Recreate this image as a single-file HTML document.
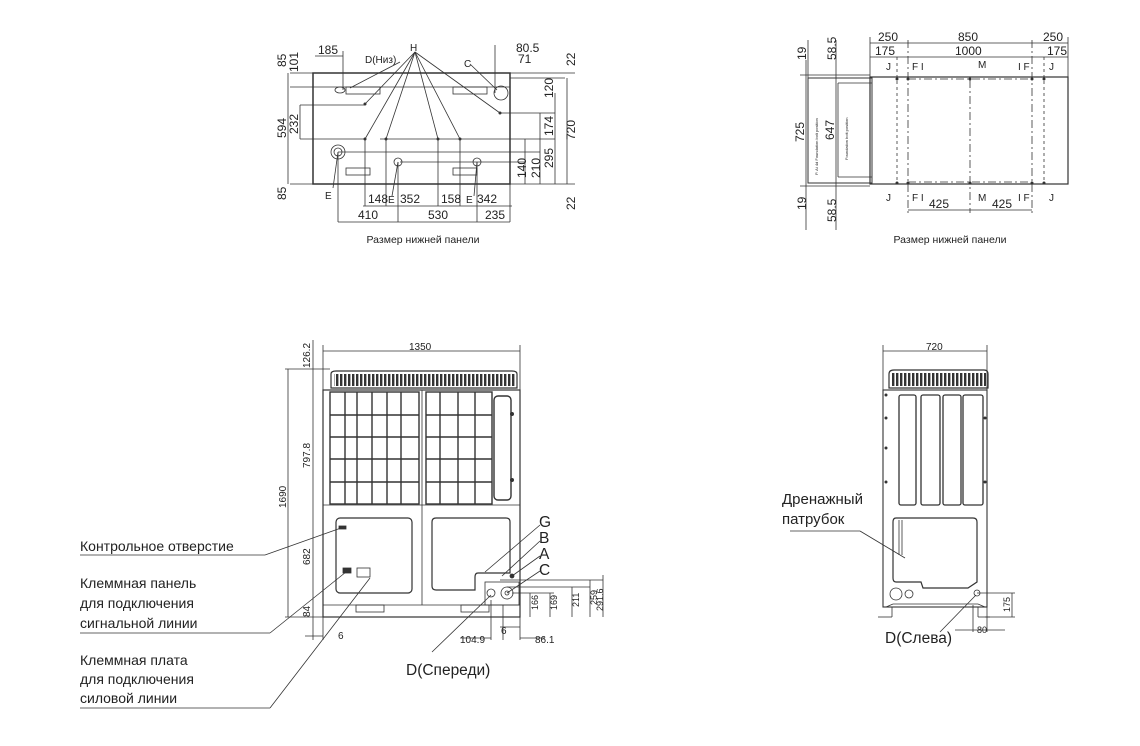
<!DOCTYPE html>
<html><head><meta charset="utf-8"><style>
html,body{margin:0;padding:0;background:#fff;}
svg{display:block;font-family:"Liberation Sans",sans-serif;}
</style></head><body>
<svg width="1140" height="746" viewBox="0 0 1140 746" xmlns="http://www.w3.org/2000/svg">
<defs>
<pattern id="gr" x="0" y="0" width="4" height="20" patternUnits="userSpaceOnUse"><rect x="0" y="0" width="2.4" height="20" fill="#333"/></pattern>
</defs>
<g stroke="#333" stroke-width="0.8" fill="none">
<!-- ===== TOP LEFT VIEW ===== -->
<rect x="313" y="73" width="197" height="111" stroke-width="1.5"/>
<line x1="290" y1="87" x2="510" y2="87"/>
<line x1="290" y1="73" x2="313" y2="73"/>
<line x1="290" y1="184" x2="313" y2="184"/>
<line x1="510" y1="73" x2="575" y2="73"/><line x1="510" y1="184" x2="575" y2="184"/>
<line x1="510" y1="78" x2="565" y2="78"/>
<line x1="300" y1="105" x2="365" y2="105"/><line x1="300" y1="139" x2="365" y2="139"/>
<line x1="300" y1="105" x2="300" y2="139"/>
<line x1="500" y1="113" x2="555" y2="113"/><line x1="380" y1="139" x2="555" y2="139"/>
<line x1="338" y1="152" x2="540" y2="152"/><line x1="400" y1="162" x2="525" y2="162"/>
<line x1="555" y1="93" x2="555" y2="184"/><line x1="540" y1="113" x2="540" y2="184"/>
<line x1="525" y1="139" x2="525" y2="184"/>
<line x1="567" y1="78" x2="567" y2="184"/>
<line x1="288" y1="73" x2="288" y2="184"/>
<rect x="346" y="87" width="34" height="7"/><rect x="453" y="87" width="34" height="7"/>
<rect x="346" y="168" width="24" height="7"/><rect x="453" y="168" width="24" height="7"/>
<circle cx="501" cy="93" r="7"/><circle cx="338" cy="152" r="7"/><circle cx="338" cy="152" r="4"/>
<circle cx="398" cy="162" r="4"/><circle cx="477" cy="162" r="4"/>
<ellipse cx="340" cy="90" rx="5" ry="3"/>
<line x1="343" y1="51" x2="343" y2="90"/><line x1="315" y1="56" x2="343" y2="56"/>
<line x1="495" y1="45" x2="495" y2="93"/>
<line x1="415" y1="52" x2="365" y2="104"/><line x1="415" y1="52" x2="365" y2="139"/>
<line x1="415" y1="52" x2="386" y2="139"/><line x1="415" y1="52" x2="438" y2="139"/>
<line x1="415" y1="52" x2="460" y2="139"/><line x1="415" y1="52" x2="500" y2="113"/>
<line x1="400" y1="62" x2="350" y2="88"/><line x1="470" y1="64" x2="497" y2="90"/>
<line x1="338" y1="152" x2="333" y2="188"/><line x1="398" y1="162" x2="392" y2="196"/><line x1="477" y1="162" x2="474" y2="196"/>
<line x1="365" y1="139" x2="365" y2="206"/><line x1="386" y1="139" x2="386" y2="206"/>
<line x1="438" y1="139" x2="438" y2="206"/><line x1="460" y1="139" x2="460" y2="206"/>
<line x1="338" y1="152" x2="338" y2="222"/><line x1="398" y1="162" x2="398" y2="222"/>
<line x1="477" y1="162" x2="477" y2="222"/><line x1="510" y1="184" x2="510" y2="222"/>
<line x1="363" y1="206" x2="512" y2="206"/><line x1="338" y1="222" x2="510" y2="222"/>
<!-- ===== TOP RIGHT VIEW ===== -->
<rect x="870" y="77" width="198" height="107" stroke-width="1.2"/>
<rect x="808" y="78" width="64" height="105" stroke-width="1"/>
<line x1="838" y1="83" x2="872" y2="83"/><line x1="838" y1="177" x2="872" y2="177"/>
<line x1="838" y1="83" x2="838" y2="177"/>
<line x1="808" y1="78" x2="808" y2="40"/>
<line x1="870" y1="37" x2="870" y2="77"/><line x1="1068" y1="37" x2="1068" y2="77"/>
<line x1="870" y1="43" x2="1068" y2="43"/><line x1="870" y1="57" x2="1068" y2="57"/>
<line x1="908" y1="40" x2="908" y2="213" stroke-dasharray="8,3,2,3"/>
<line x1="970" y1="80" x2="970" y2="213" stroke-dasharray="8,3,2,3"/>
<line x1="1032" y1="40" x2="1032" y2="213" stroke-dasharray="8,3,2,3"/>
<line x1="897" y1="57" x2="897" y2="184" stroke-dasharray="3,3"/>
<line x1="1044" y1="57" x2="1044" y2="184" stroke-dasharray="3,3"/>
<line x1="908" y1="79" x2="1032" y2="79" stroke-dasharray="8,3,2,3"/>
<line x1="908" y1="182" x2="1032" y2="182" stroke-dasharray="8,3,2,3"/>
<line x1="908" y1="210" x2="1032" y2="210"/>
<line x1="800" y1="75" x2="870" y2="75"/><line x1="800" y1="186" x2="870" y2="186"/>
<line x1="806" y1="60" x2="806" y2="230"/><line x1="836" y1="40" x2="836" y2="230"/>
<!-- ===== FRONT VIEW ===== -->
<line x1="323" y1="345" x2="323" y2="640"/><line x1="520" y1="345" x2="520" y2="617"/>
<line x1="323" y1="351" x2="520" y2="351"/>
<path d="M331,388 L331,374 Q331,371 336,371 L512,371 Q517,371 517,374 L517,388z" stroke-width="1.2"/>
<rect x="334" y="374" width="181" height="12" fill="url(#gr)" stroke="none"/>
<rect x="323" y="390" width="197" height="227" stroke-width="1.2"/>
<line x1="323" y1="505" x2="520" y2="505"/>
<line x1="323" y1="605" x2="520" y2="605"/>
<line x1="422" y1="390" x2="422" y2="605"/>
<g stroke-width="1.4">
<rect x="330" y="392" width="89" height="112"/><rect x="426" y="392" width="66" height="112"/>
<line x1="345" y1="392" x2="345" y2="504"/><line x1="357" y1="392" x2="357" y2="504"/><line x1="372" y1="392" x2="372" y2="504"/><line x1="387" y1="392" x2="387" y2="504"/><line x1="401" y1="392" x2="401" y2="504"/>
<line x1="440" y1="392" x2="440" y2="504"/><line x1="458" y1="392" x2="458" y2="504"/><line x1="475" y1="392" x2="475" y2="504"/>
<line x1="330" y1="415" x2="419" y2="415"/><line x1="330" y1="437" x2="419" y2="437"/><line x1="330" y1="459" x2="419" y2="459"/><line x1="330" y1="482" x2="419" y2="482"/>
<line x1="426" y1="415" x2="492" y2="415"/><line x1="426" y1="437" x2="492" y2="437"/><line x1="426" y1="459" x2="492" y2="459"/><line x1="426" y1="482" x2="492" y2="482"/>
<rect x="494" y="396" width="17" height="104" rx="4"/>
</g>
<rect x="336" y="518" width="76" height="75" rx="4" stroke-width="1.2"/>
<path d="M436,518 L506,518 Q510,518 510,522 L510,573 L478,573 Q475,573 475,577 L475,590 L436,590 Q432,590 432,586 L432,522 Q432,518 436,518z" stroke-width="1.2"/>
<rect x="356" y="605" width="28" height="7"/><rect x="461" y="605" width="28" height="7"/>
<rect x="357" y="568" width="13" height="9"/><rect x="343" y="568" width="8" height="5" fill="#333"/>
<rect x="339" y="526" width="7" height="3" fill="#333"/>
<rect x="485" y="582" width="34" height="23"/>
<circle cx="491" cy="593" r="4"/><circle cx="507" cy="593" r="6"/><circle cx="507" cy="593" r="2"/>
<circle cx="512" cy="576" r="2" fill="#333"/>
<line x1="500" y1="580" x2="603" y2="580"/><line x1="507" y1="587" x2="590" y2="587"/>
<line x1="512" y1="593" x2="554" y2="593"/>
<line x1="530" y1="593" x2="530" y2="617"/><line x1="550" y1="593" x2="550" y2="617"/>
<line x1="572" y1="587" x2="572" y2="617"/><line x1="590" y1="580" x2="590" y2="617"/>
<line x1="603" y1="575" x2="603" y2="617"/>
<line x1="503" y1="605" x2="503" y2="640"/><line x1="520" y1="605" x2="520" y2="640"/>
<line x1="491" y1="600" x2="491" y2="640"/>
<line x1="460" y1="638" x2="491" y2="638"/><line x1="520" y1="638" x2="545" y2="638"/>
<line x1="500" y1="627" x2="520" y2="627"/>
<line x1="288" y1="369" x2="288" y2="617"/><line x1="285" y1="369" x2="330" y2="369"/>
<line x1="313" y1="340" x2="313" y2="640"/>
<line x1="285" y1="617" x2="520" y2="617"/>
<line x1="305" y1="636" x2="323" y2="636"/>
<line x1="540" y1="525" x2="485" y2="572"/><line x1="540" y1="541" x2="502" y2="576"/>
<line x1="540" y1="556" x2="512" y2="576"/><line x1="540" y1="571" x2="507" y2="593"/>
<line x1="80" y1="555" x2="265" y2="555"/><line x1="265" y1="555" x2="341" y2="528"/>
<line x1="80" y1="633" x2="270" y2="633"/><line x1="270" y1="633" x2="346" y2="572"/>
<line x1="80" y1="708" x2="270" y2="708"/><line x1="270" y1="708" x2="370" y2="578"/>
<line x1="432" y1="652" x2="491" y2="595"/>
<!-- ===== SIDE VIEW ===== -->
<line x1="883" y1="345" x2="883" y2="390"/><line x1="987" y1="345" x2="987" y2="390"/>
<line x1="883" y1="351" x2="987" y2="351"/>
<path d="M889,388 L889,374 Q889,370 894,370 L984,370 Q988,370 988,374 L988,388z" stroke-width="1.2"/>
<rect x="892" y="373" width="94" height="13" fill="url(#gr)" stroke="none"/>
<rect x="883" y="390" width="104" height="217" stroke-width="1.1"/>
<g stroke-width="1.3">
<rect x="899" y="395" width="17" height="110" rx="2"/><rect x="921" y="395" width="19" height="110" rx="2"/>
<rect x="943" y="395" width="18" height="110" rx="2"/><rect x="963" y="395" width="20" height="110" rx="2"/>
</g>
<path d="M896,518 L973,518 Q977,518 977,522 L977,582 L968,588 L923,588 L921,582 L896,582 Q893,582 893,578 L893,522 Q893,518 896,518z" stroke-width="1.2"/>
<line x1="899" y1="520" x2="899" y2="555"/><line x1="902" y1="520" x2="902" y2="555"/>
<circle cx="896" cy="594" r="6"/><circle cx="909" cy="594" r="4"/>
<circle cx="977" cy="593" r="3"/>
<path d="M886,607 L893,604 L978,604 L985,607" />
<line x1="878" y1="617" x2="892" y2="617"/><line x1="892" y1="607" x2="892" y2="617"/>
<line x1="978" y1="607" x2="978" y2="617"/><line x1="978" y1="617" x2="990" y2="617"/>
<line x1="977" y1="593" x2="1015" y2="593"/><line x1="985" y1="617" x2="1015" y2="617"/>
<line x1="1012" y1="593" x2="1012" y2="617"/>
<line x1="973" y1="605" x2="973" y2="632"/><line x1="987" y1="605" x2="987" y2="632"/>
<line x1="955" y1="630" x2="1005" y2="630"/>
<line x1="790" y1="531" x2="860" y2="531"/><line x1="860" y1="531" x2="905" y2="558"/>
<line x1="940" y1="632" x2="976" y2="595"/>
</g>
<g fill="#333">
<circle cx="886" cy="395" r="1.5"/><circle cx="886" cy="418" r="1.5"/><circle cx="886" cy="448" r="1.5"/><circle cx="886" cy="482" r="1.5"/>
<circle cx="985" cy="418" r="1.5"/><circle cx="985" cy="482" r="1.5"/>
<circle cx="365" cy="104" r="1.5"/><circle cx="365" cy="139" r="1.5"/><circle cx="386" cy="139" r="1.5"/><circle cx="438" cy="139" r="1.5"/><circle cx="460" cy="139" r="1.5"/><circle cx="500" cy="113" r="1.5"/>
<circle cx="908" cy="79" r="1.5"/><circle cx="970" cy="79" r="1.5"/><circle cx="1032" cy="79" r="1.5"/><circle cx="897" cy="79" r="1.5"/><circle cx="1044" cy="79" r="1.5"/>
<circle cx="908" cy="183" r="1.5"/><circle cx="970" cy="183" r="1.5"/><circle cx="1032" cy="183" r="1.5"/><circle cx="897" cy="183" r="1.5"/><circle cx="1044" cy="183" r="1.5"/>
<circle cx="512" cy="414" r="2"/><circle cx="512" cy="480" r="2"/>
</g>
<!-- ===== TEXT ===== -->
<g font-size="12" fill="#222">
<text x="318" y="54">185</text><text x="365" y="63" font-size="10">D(Низ)</text>
<text x="410" y="51" font-size="10">H</text><text x="464" y="67" font-size="10">C</text>
<text x="516" y="52">80.5</text><text x="518" y="63">71</text>
<text x="368" y="203">148</text><text x="400" y="203">352</text><text x="441" y="203">158</text><text x="477" y="203">342</text>
<text x="358" y="219">410</text><text x="428" y="219">530</text><text x="485" y="219">235</text>
<text x="325" y="199" font-size="10">E</text><text x="388" y="203" font-size="10">E</text><text x="466" y="203" font-size="10">E</text>
<text x="423" y="243" font-size="10.5" text-anchor="middle">Размер нижней панели</text>
<text x="950" y="243" font-size="10.5" text-anchor="middle">Размер нижней панели</text>
<text x="878" y="41">250</text><text x="958" y="41">850</text><text x="1043" y="41">250</text>
<text x="875" y="55">175</text><text x="955" y="55">1000</text><text x="1047" y="55">175</text>
<text x="886" y="70" font-size="10">J</text><text x="912" y="70" font-size="10">F I</text><text x="978" y="68" font-size="10">M</text><text x="1018" y="70" font-size="10">I F</text><text x="1049" y="70" font-size="10">J</text>
<text x="886" y="201" font-size="10">J</text><text x="912" y="201" font-size="10">F I</text><text x="978" y="201" font-size="10">M</text><text x="1018" y="201" font-size="10">I F</text><text x="1049" y="201" font-size="10">J</text>
<text x="929" y="208">425</text><text x="992" y="208">425</text>
<text x="409" y="350" font-size="10">1350</text><text x="926" y="350" font-size="10">720</text>
<text x="539" y="527" font-size="15.5">G</text><text x="539" y="543" font-size="15.5">B</text><text x="539" y="559" font-size="15.5">A</text><text x="539" y="575" font-size="15.5">C</text>
<text x="338" y="639" font-size="10">6</text><text x="501" y="634" font-size="10">6</text>
<text x="460" y="643" font-size="10">104.9</text><text x="535" y="643" font-size="10">86.1</text>
<text x="406" y="675" font-size="15.5">D(Спереди)</text>
<text x="885" y="643" font-size="15.5">D(Слева)</text><text x="977" y="633" font-size="9">80</text>
<text x="80" y="551" font-size="14">Контрольное отверстие</text>
<text x="80" y="588" font-size="14">Клеммная панель</text><text x="80" y="608" font-size="14">для подключения</text><text x="80" y="628" font-size="14">сигнальной линии</text>
<text x="80" y="665" font-size="14">Клеммная плата</text><text x="80" y="684" font-size="14">для подключения</text><text x="80" y="703" font-size="14">силовой линии</text>
<text x="782" y="504" font-size="15">Дренажный</text><text x="782" y="524" font-size="15">патрубок</text>
</g>
<g font-size="12" fill="#222">
<text transform="translate(286,67) rotate(-90)">85</text>
<text transform="translate(298,72) rotate(-90)">101</text>
<text transform="translate(286,138) rotate(-90)">594</text>
<text transform="translate(298,134) rotate(-90)">232</text>
<text transform="translate(286,200) rotate(-90)">85</text>
<text transform="translate(575,66) rotate(-90)">22</text>
<text transform="translate(575,210) rotate(-90)">22</text>
<text transform="translate(553,98) rotate(-90)">120</text>
<text transform="translate(553,136) rotate(-90)">174</text>
<text transform="translate(575,140) rotate(-90)">720</text>
<text transform="translate(526,178) rotate(-90)">140</text>
<text transform="translate(540,178) rotate(-90)">210</text>
<text transform="translate(553,168) rotate(-90)">295</text>
<text transform="translate(806,60) rotate(-90)">19</text>
<text transform="translate(836,60) rotate(-90)">58.5</text>
<text transform="translate(804,142) rotate(-90)">725</text>
<text transform="translate(834,140) rotate(-90)">647</text>
<text transform="translate(806,210) rotate(-90)">19</text>
<text transform="translate(836,222) rotate(-90)">58.5</text>
<text transform="translate(310,368) rotate(-90)" font-size="10">126.2</text>
<text transform="translate(310,468) rotate(-90)" font-size="10">797.8</text>
<text transform="translate(286,508) rotate(-90)" font-size="10">1690</text>
<text transform="translate(310,565) rotate(-90)" font-size="10">682</text>
<text transform="translate(310,617) rotate(-90)" font-size="10">84</text>
<text transform="translate(538,610) rotate(-90)" font-size="9">166</text>
<text transform="translate(557,610) rotate(-90)" font-size="9">169</text>
<text transform="translate(579,607) rotate(-90)" font-size="9">211</text>
<text transform="translate(597,605) rotate(-90)" font-size="9">259</text>
<text transform="translate(603,611) rotate(-90)" font-size="9">291.6</text>
<text transform="translate(1010,612) rotate(-90)" font-size="9">175</text>
<text transform="translate(818,175) rotate(-90)" font-size="4">P. Ai 4d Foundation bolt position</text>
<text transform="translate(848,160) rotate(-90)" font-size="4">Foundation bolt position</text>
</g>
</svg>
</body></html>
